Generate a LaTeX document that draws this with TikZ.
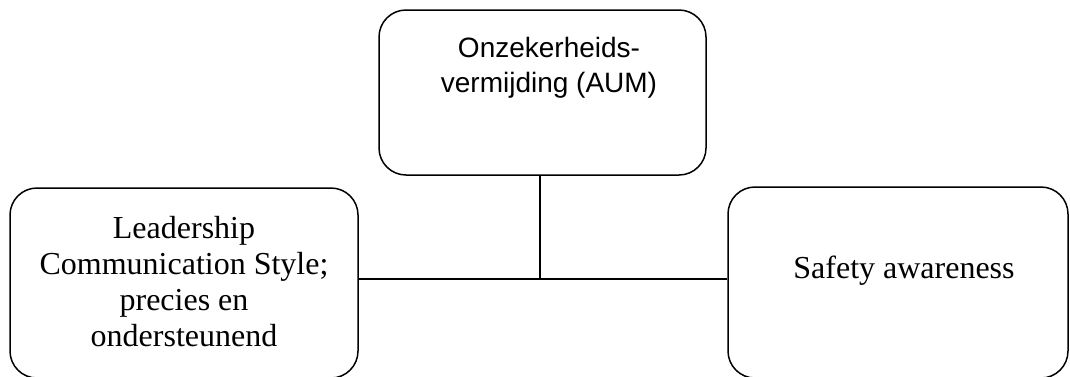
\documentclass[tikz,border=0pt]{standalone}
\usepackage{fontspec}
\setmainfont{Liberation Serif}
\newfontfamily\arialf{Liberation Sans}
\begin{document}
\begin{tikzpicture}[x=1pt,y=-1pt,
  box/.style={draw=black,line width=1.5pt,rounded corners=27pt,minimum width=#1,inner sep=0pt},
  txt/.style={inner sep=0pt,align=center,font=\fontsize{32}{36}\selectfont},
  link/.style={draw=black,line width=1.5pt}]
\useasboundingbox (0,0) rectangle (1070,376);
\node[box=327pt,minimum height=165pt] (top) at (542.5,92.5) {};
\node[box=348pt,minimum height=190pt] (left) at (184,283) {};
\node[box=340pt,minimum height=191pt] (right) at (898,282.5) {};
\node[txt,font=\fontsize{28}{35}\selectfont\arialf,anchor=north] (toptxt) at (549,37.5) {Onzekerheids-\\vermijding (AUM)};
\node[txt,anchor=north] (lefttxt) at (184,216) {Leadership\\Communication Style;\\precies en\\ondersteunend};
\node[txt,anchor=base] (righttxt) at (904,278) {Safety awareness};
\coordinate (j) at (540,279);
\draw[link] (j |- top.south) -- (j);
\draw[link] (left.east |- j) -- (right.west |- j);
\end{tikzpicture}
\end{document}
